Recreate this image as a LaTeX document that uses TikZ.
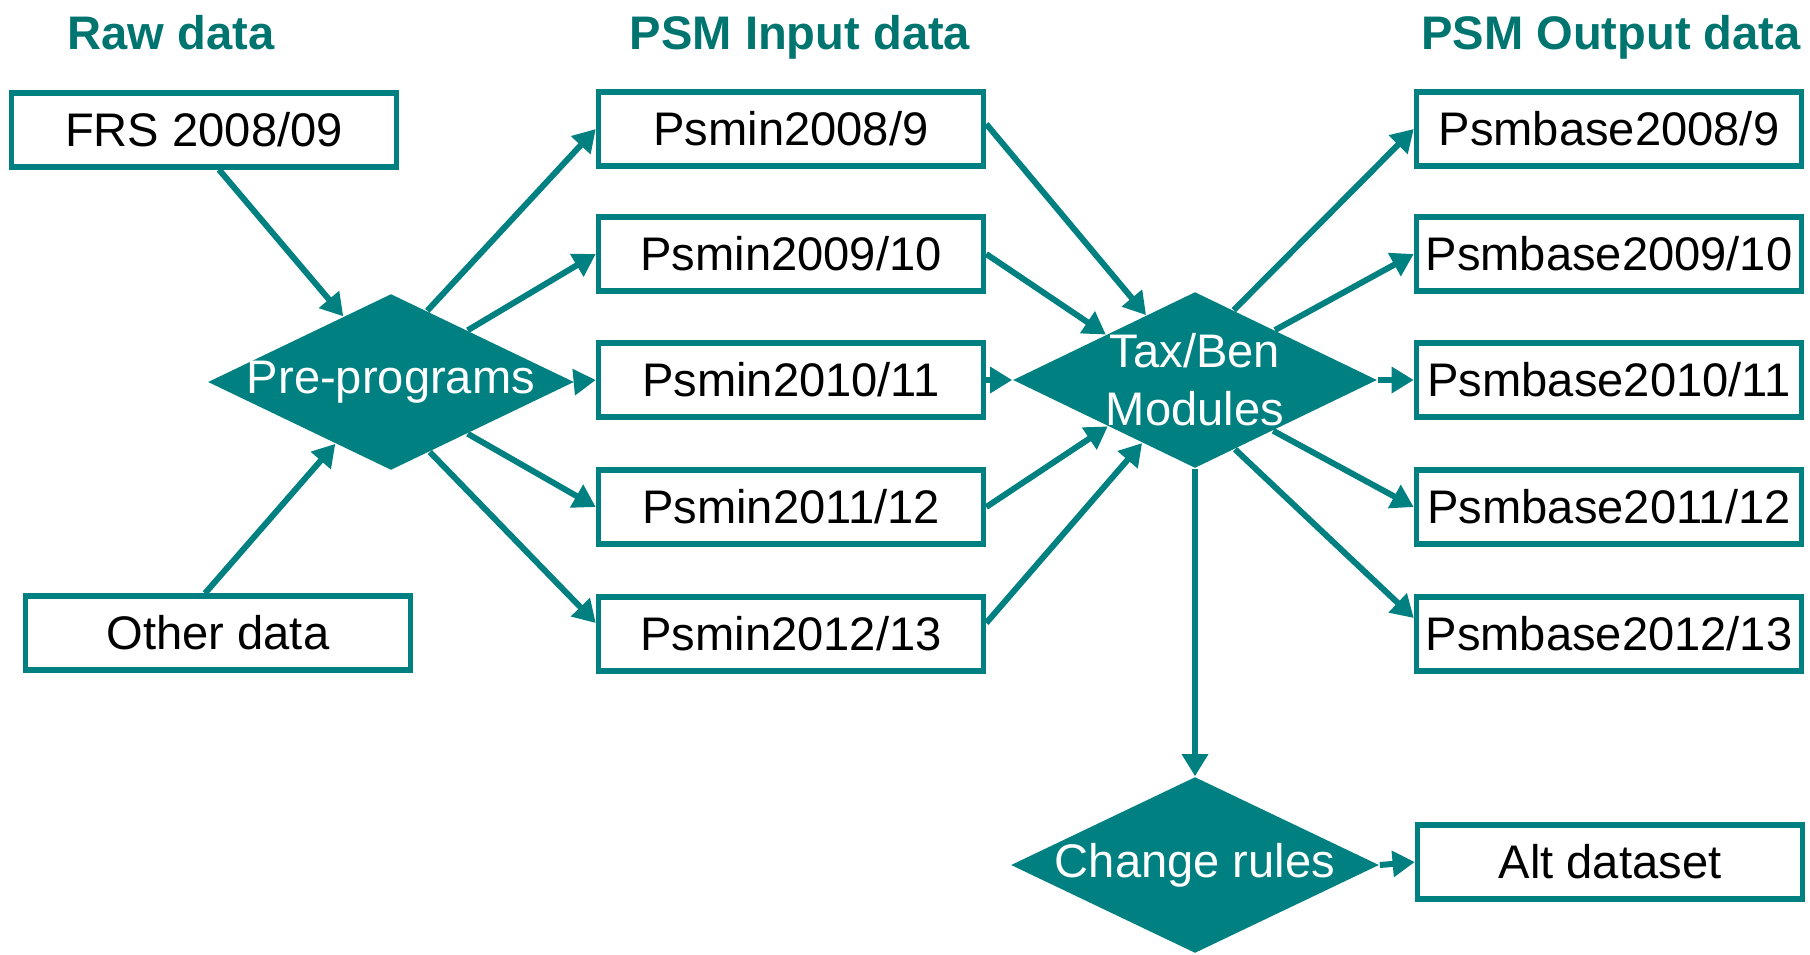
\documentclass[tikz,border=0pt]{standalone}
\usepackage{fontspec}
\setmainfont{Liberation Sans}
\usepackage{xcolor}
\usetikzlibrary{
    arrows.meta,
    shapes.geometric
}
\definecolor{psmteal}{RGB}{0,128,128}
\definecolor{headteal}{RGB}{0,117,112}

\begin{document}
\begin{tikzpicture}[
            x=0.01cm, y=-0.01cm,
            every node/.style={font=\fontsize{13.4}{16.5}\selectfont},
            data box/.style={draw=psmteal, line width=1.5pt, minimum width=3.85cm, minimum height=0.74cm, inner sep=0pt},
            flow diamond/.style={diamond, fill=psmteal, text=white, inner sep=0pt, minimum width=#1, minimum height=1.76cm},
            heading/.style={anchor=base, text=headteal, font=\fontsize{13.4}{16.5}\selectfont\bfseries},
            flow/.style={draw=psmteal, line width=1.7pt, -{Triangle[length=6.3pt, width=7.2pt]}}
        ]
        \useasboundingbox (0,0) rectangle (1810,954);

        \node[heading] (rawhead) at (171,49) {Raw data};
        \node[heading] (inhead) at (800,49) {PSM Input data};
        \node[heading] (outhead) at (1611,49) {PSM Output data};

        \node[data box] (frs) at (204,130) {FRS 2008/09};
        \node[data box] (other) at (218,633) {Other data};

        \node[data box] (psmin1) at (791,129) {Psmin2008/9};
        \node[data box] (psmin2) at (791,254) {Psmin2009/10};
        \node[data box] (psmin3) at (791,380) {Psmin2010/11};
        \node[data box] (psmin4) at (791,507) {Psmin2011/12};
        \node[data box] (psmin5) at (791,634) {Psmin2012/13};

        \node[data box] (base1) at (1609,129) {Psmbase2008/9};
        \node[data box] (base2) at (1609,254) {Psmbase2009/10};
        \node[data box] (base3) at (1609,380) {Psmbase2010/11};
        \node[data box] (base4) at (1609,507) {Psmbase2011/12};
        \node[data box] (base5) at (1609,634) {Psmbase2012/13};
        \node[data box] (alt) at (1610,862) {Alt dataset};

        \node[flow diamond=3.66cm] (pre) at (391,382) {\makebox[0pt]{Pre-programs}};
        \node[flow diamond=3.64cm, align=center] (taxben) at (1195,380) {\makebox[0pt]{Tax/Ben}\\\makebox[0pt]{Modules}};
        \node[flow diamond=3.68cm] (change) at (1195,865) {\makebox[0pt]{Change rules}};

        % raw data in
        \draw[flow] ([xshift=0.15cm]frs.south) -- (pre.126);
        \draw[flow] ([xshift=-0.13cm]other.north) -- (pre.228);

        % pre-programs out
        \draw[flow] (pre.63) -- (psmin1.west);
        \draw[flow] (pre.34) -- (psmin2.west);
        \draw[flow] (pre.east) -- (psmin3.west);
        \draw[flow] (pre.-34) -- (psmin4.west);
        \draw[flow] (pre.-61) -- ([yshift=0.11cm]psmin5.west);

        % input data to modules
        \draw[flow] ([yshift=0.05cm]psmin1.east) -- (taxben.127);
        \draw[flow] (psmin2.east) -- (taxben.153);
        \draw[flow] (psmin3.east) -- (taxben.west);
        \draw[flow] (psmin4.east) -- (taxben.208);
        \draw[flow] ([yshift=0.11cm]psmin5.east) -- (taxben.230);

        % modules out
        \draw[flow] (taxben.61) -- (base1.west);
        \draw[flow] (taxben.32) -- (base2.west);
        \draw[flow] (taxben.east) -- (base3.west);
        \draw[flow] (taxben.-33) -- (base4.west);
        \draw[flow] (taxben.-60) -- ([yshift=0.16cm]base5.west);

        \draw[flow] (taxben.south) -- (change.north);
        \draw[flow] (change.east) -- (alt.west);
    \end{tikzpicture}
\end{document}
